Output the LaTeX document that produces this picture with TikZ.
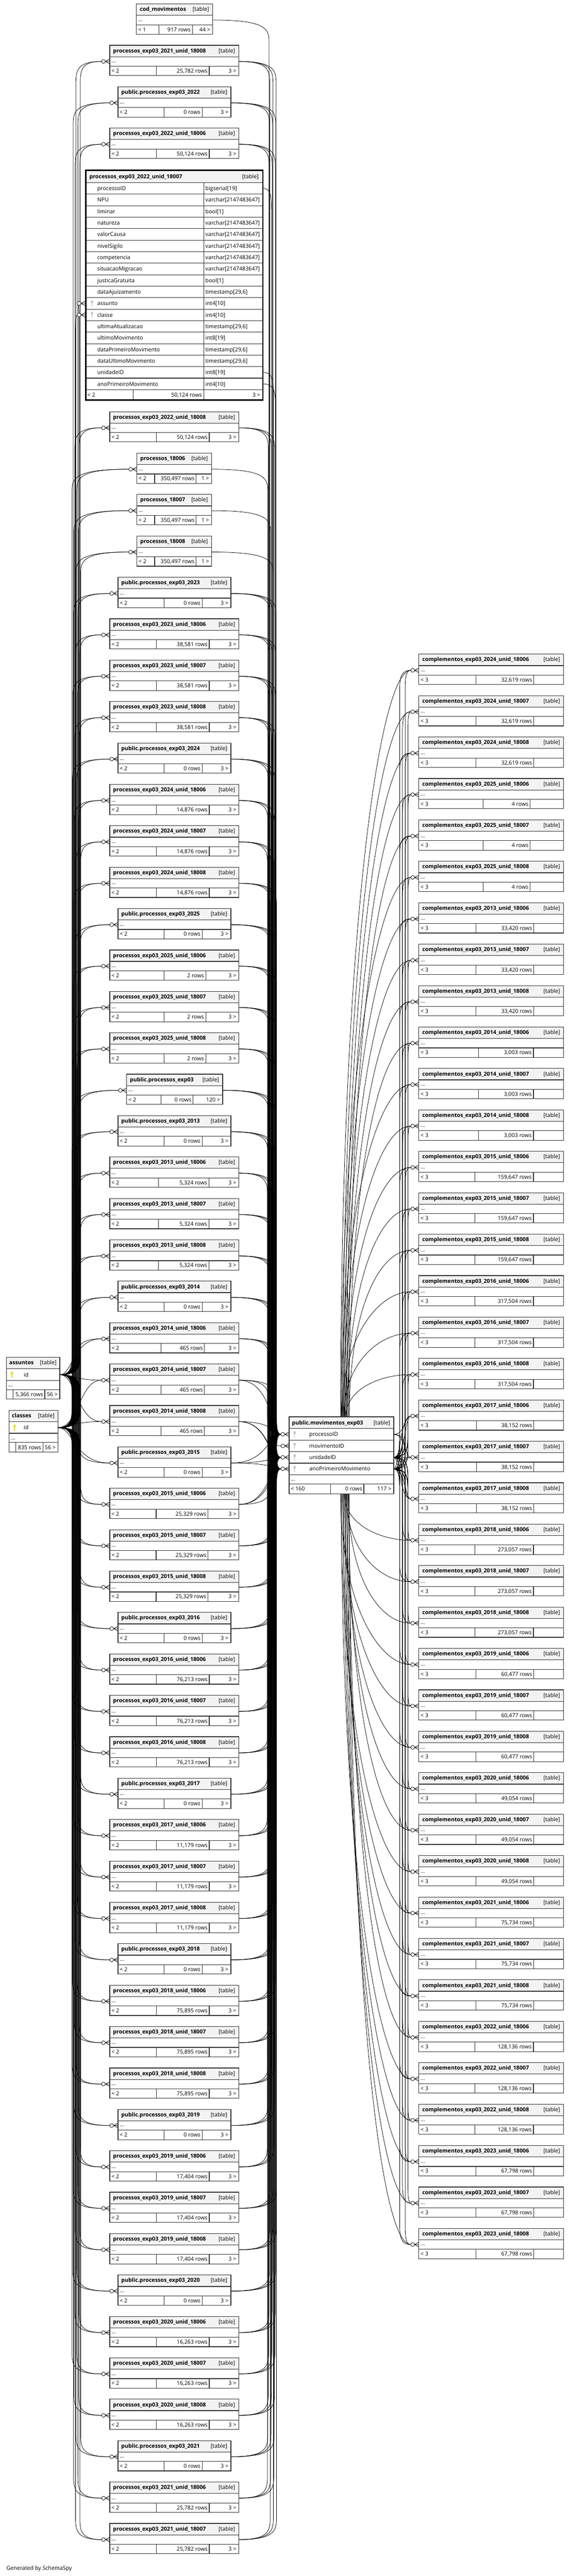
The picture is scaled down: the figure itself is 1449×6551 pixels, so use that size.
\documentclass[tikz,border=0pt]{standalone}
\usepackage{fontspec}
\setmainfont{Open Sans}
\usetikzlibrary{calc}
\definecolor{keyyellow}{RGB}{222,222,0}
\definecolor{keygray}{RGB}{185,185,185}
\definecolor{hdrgray}{RGB}{243,243,243}
\definecolor{bordergray}{RGB}{51,51,51}
\tikzset{
  tb/.style={draw=bordergray, line width=0.75pt},
  tbthick/.style={draw=black, line width=1.7pt},
  hdr/.style={fill=hdrgray},
  edge/.style={draw=black, line width=0.5pt},
  ttl/.style={font=\bfseries\fontsize{7}{8}\selectfont, inner sep=0pt},
  txt/.style={font=\fontsize{7}{8}\selectfont, inner sep=0pt},
}
\newif\ifedgepass
\def\splitd#1/#2\relax{\def\dA{#1}\def\dB{#2}}
% crow's foot with open circle, table edge at x=#1
\newcommand{\crowat}[2]{\ifedgepass\else
  \draw[edge, fill=white] ({#1-16},#2) circle[radius=4.8];
  \draw[edge] ({#1-11.2},#2) -- (#1,{#2-6}) ({#1-11.2},#2) -- (#1,#2) ({#1-11.2},#2) -- (#1,{#2+6});
  \fi}
\newcommand{\keyicon}[3]{%
  \fill[#3] (#1,{#2-4.5}) ellipse[x radius=3, y radius=3.6];
  \draw[#3, line width=1pt] (#1,{#2-3}) -- (#1,{#2+7.5});
  \fill[white] (#1,{#2-5.5}) circle[radius=1];
}
% generic small table: name, xl, xr, ytop, title, left, rows, right, d1/d2
\newcommand{\dbt}[9]{%
  \splitd#9\relax
  \pgfmathsetmacro\yA{#4+29}\pgfmathsetmacro\yB{#4+53}%
  \pgfmathsetmacro\yC{#4+77}\pgfmathsetmacro\yR{#4+41}%
  \coordinate (#1-l) at (#2,\yR);
  \coordinate (#1-r) at (#3,\yR);
  \coordinate (#1-lc) at ({#2-21},\yR);
  \ifedgepass\else
  \fill[white] (#2,#4) rectangle (#3,\yC);
  \fill[hdr] (#2,#4) rectangle (#3,\yA);
  \draw[tb] (#2,#4) rectangle (#3,\yC) (#2,\yA) -- (#3,\yA) (#2,\yB) -- (#3,\yB)
     (\dA,\yB) -- (\dA,\yC) (\dB,\yB) -- (\dB,\yC);
  \node[ttl,anchor=base west] (#1-title) at ({#2+8},{#4+18.5}) {#5};
  \node[txt,anchor=base east] (#1-kind) at ({#3-9},{#4+18.5}) {[table]};
  \node[txt,anchor=base west] (#1-dots) at ({#2+4},{#4+44}) {...};
  \node[txt,anchor=base west] (#1-fl) at ({#2+4},{#4+70}) {#6};
  \node[txt,anchor=base east] (#1-fr) at ({\dB-4},{#4+70}) {#7};
  \node[txt,anchor=base east] (#1-fx) at ({#3-6},{#4+70}) {#8};
  \fi
}
% bundled edge: src name, src y, tgt name, tgt y, bundle x
\newcommand{\bedge}[5]{\ifedgepass
  \pgfmathsetmacro\edy{#4-(#2)}%
  \pgfmathsetmacro\es{(\edy<0) ? -1 : 1}%
  \pgfmathsetmacro\eady{abs(\edy)}%
  \ifdim\eady pt<140pt
    \draw[edge] (#1) .. controls (#5,#2) and (#5,#4) .. (#3);
  \else
    \draw[edge] (#1) .. controls (#5,#2) and (#5,{#2+\es*25}) .. (#5,{#2+\es*60})
      -- (#5,{#4-\es*60}) .. controls (#5,{#4-\es*25}) and (#5,#4) .. (#3);
  \fi
  \fi}
\newcommand{\midedges}[2]{%
  \pgfmathsetmacro\bxa{183+mod(5*#1,23)}%
  \pgfmathsetmacro\bxb{183+mod(5*#1+11,23)}%
  \bedge{as-id}{3496}{m#1-lc}{\yR}{\bxa}%
  \bedge{cl-id}{3630.5}{m#1-lc}{\yR}{\bxb}%
  \pgfmathsetmacro\bxc{680+mod(7*#1,24)}%
  \bedge{m#1-r}{\yR}{mv-lp}{3647.6}{\bxc}%
  \ifnum#2>1
    \pgfmathsetmacro\bxd{680+mod(7*#1+8,24)}%
    \pgfmathsetmacro\bxe{680+mod(7*#1+16,24)}%
    \bedge{m#1-r}{\yR}{mv-lu}{3706.2}{\bxd}%
    \bedge{m#1-r}{\yR}{mv-la}{3735.5}{\bxe}%
  \fi}
\newcommand{\midtop}[1]{\pgfmathsetmacro\yt{(#1<6) ? (10+(#1-1)*105.3) : (1047+(#1-6)*105.3)}}
\newcommand{\midU}[5]{% i, year, unit, rows, d1/d2
  \midtop{#1}%
  \dbt{m#1}{279}{607}{\yt}{processos\_exp03\_#2\_unid\_#3}{< 2}{#4 rows}{3 >}{#5}%
  \crowat{279}{\yR}%
  \midedges{#1}{3}}
\newcommand{\midP}[2]{% i, year
  \midtop{#1}%
  \dbt{m#1}{300}{587}{\yt}{public.processos\_exp03\_#2}{< 2}{0 rows}{3 >}{417/514}%
  \crowat{300}{\yR}%
  \midedges{#1}{3}}
\newcommand{\midR}[2]{% i, unit
  \midtop{#1}%
  \dbt{m#1}{348}{538}{\yt}{processos\_#2}{< 2}{350,497 rows}{1 >}{393/499}%
  \crowat{348}{\yR}%
  \midedges{#1}{1}}
\newcommand{\comp}[5]{% k, year, unit, rows, d1/d2
  \pgfmathsetmacro\yt{1663.7+#1*105.35}%
  \dbt{c#1}{1065}{1433}{\yt}{complementos\_exp03\_#2\_unid\_#3}{< 3}{#4 rows}{}{#5}%
  \crowat{1065}{\yR}%
  \pgfmathsetmacro\bxa{1016+mod(7*#1,28)}%
  \pgfmathsetmacro\bxb{1016+mod(7*#1+14,28)}%
  \bedge{mv-ru}{3706.2}{c#1-lc}{\yR}{\bxa}%
  \bedge{mv-ra}{3735.5}{c#1-lc}{\yR}{\bxb}%
  \pgfmathsetmacro\xo{866+mod(5*#1,24)}%
  \ifdim\yR pt<3540pt
    \coordinate (mvt#1) at (\xo,3603);
    \ifedgepass
    \draw[edge] (mvt#1) .. controls (\xo,{\yR+0.35*(3603-\yR)}) and (965,\yR) .. (c#1-lc);
    \fi
  \else\ifdim\yR pt>3860pt
    \coordinate (mvb#1) at (\xo,3798.5);
    \ifedgepass
    \draw[edge] (mvb#1) .. controls (\xo,{\yR-0.35*(\yR-3798.5)}) and (965,\yR) .. (c#1-lc);
    \fi
  \else
    \bedge{mv-rp}{3647.6}{c#1-lc}{\yR}{1030}%
  \fi\fi}

\newcommand{\bigtable}{%
  \coordinate (big-pid) at (669,479.1);
  \coordinate (big-uni) at (669,947.1);
  \coordinate (big-ano) at (669,976.4);
  \coordinate (big-as-lc) at (197,771.6);
  \coordinate (big-cl-lc) at (197,800.9);
  \ifedgepass
  \bedge{as-id}{3496}{big-as-lc}{771.6}{201}
  \bedge{cl-id}{3630.5}{big-cl-lc}{800.9}{192}
  \bedge{big-pid}{479.1}{mv-lp}{3647.6}{690}
  \bedge{big-uni}{947.1}{mv-lu}{3706.2}{695}
  \bedge{big-ano}{976.4}{mv-la}{3735.5}{700}
  \else
  \fill[white] (218,433) rectangle (668,1017);
  \fill[hdr] (218,433) rectangle (668,464.5);
  \draw[tb] (218,464.5) -- (668,464.5) (518,464.5) -- (518,991) (218,991) -- (668,991)
    (339,991) -- (339,1017) (518,991) -- (518,1017);
  \foreach \fn/\ft [count=\rr from 0] in {processoID/{bigserial[19]}, NPU/{varchar[2147483647]},
    liminar/{bool[1]}, natureza/{varchar[2147483647]}, valorCausa/{varchar[2147483647]},
    nivelSigilo/{varchar[2147483647]}, competencia/{varchar[2147483647]},
    situacaoMigracao/{varchar[2147483647]}, justicaGratuita/{bool[1]},
    dataAjuizamento/{timestamp[29,6]}, assunto/{int4[10]}, classe/{int4[10]},
    ultimaAtualizacao/{timestamp[29,6]}, ultimoMovimento/{int8[19]},
    dataPrimeiroMovimento/{timestamp[29,6]}, dataUltimoMovimento/{timestamp[29,6]},
    unidadeID/{int8[19]}, anoPrimeiroMovimento/{int4[10]}} {
    \pgfmathsetmacro\yc{464.5+29.25*\rr+14.6}
    \node[txt,anchor=base west] (big-f\rr) at (247,{\yc+5}) {\fn};
    \node[txt,anchor=base west] (big-t\rr) at (522,{\yc+5}) {\ft};
    \ifnum\rr<17 \pgfmathsetmacro\yl{464.5+29.25*(\rr+1)}\draw[tb] (218,\yl) -- (668,\yl);\fi
  }
  \keyicon{234}{771.6}{keygray}
  \keyicon{234}{800.9}{keygray}
  \node[ttl,anchor=base west] (big-title) at (227,454) {processos\_exp03\_2022\_unid\_18007};
  \node[txt,anchor=base east] (big-kind) at (658,454) {[table]};
  \node[txt,anchor=base west] (big-fl) at (222,1009) {< 2};
  \node[txt,anchor=base east] (big-fr) at (514,1009) {50,124 rows};
  \node[txt,anchor=base east] (big-fx) at (662,1009) {3 >};
  \draw[tbthick] (218,433) rectangle (668,1017);
  \crowat{217}{771.6}
  \crowat{217}{800.9}
  \fi}

\newcommand{\allcolumns}{%
  \dbt{m1}{347}{541}{10}{cod\_movimentos}{< 1}{917 rows}{44 >}{404/489}
  \bedge{m1-r}{51}{mv-lm}{3677}{684}
  \midU{2}{2021}{18008}{25,782}{398/532}
  \midP{3}{2022}
  \midU{4}{2022}{18006}{50,124}{398/532}
  \bigtable
  \midU{6}{2022}{18008}{50,124}{398/532}
  \midR{7}{18006}
  \midR{8}{18007}
  \midR{9}{18008}
  \foreach \ip/\yr/\rw/\da/\db in {10/2023/{38,581}/398/532, 14/2024/{14,876}/398/532,
     18/2025/2/417/523, 23/2013/{5,324}/403/531, 27/2014/465/409/520,
     31/2015/{25,329}/397/529, 35/2016/{76,213}/398/532, 39/2017/{11,179}/398/532,
     43/2018/{75,895}/398/532, 47/2019/{17,404}/398/532, 51/2020/{16,263}/398/532} {
    \midP{\ip}{\yr}
    \foreach \un [count=\jj from 1] in {18006,18007,18008} {
      \pgfmathtruncatemacro\mi{\ip+\jj}
      \midU{\mi}{\yr}{\un}{\rw}{\da/\db}
    }
  }
  \midtop{22}
  \dbt{m22}{322}{566}{\yt}{public.processos\_exp03}{< 2}{0 rows}{120 >}{409/491}
  \crowat{322}{\yR}
  \midedges{22}{3}
  \midP{55}{2021}
  \midU{56}{2021}{18006}{25,782}{398/532}
  \midU{57}{2021}{18007}{25,782}{398/532}
  \foreach \grp/\yr/\rw/\da/\db in {0/2024/{32,619}/1210/1357, 1/2025/4/1228/1348,
     2/2013/{33,420}/1210/1357, 3/2014/{3,003}/1216/1356,
     4/2015/{159,647}/1207/1356, 5/2016/{317,504}/1207/1356, 6/2017/{38,152}/1211/1357,
     7/2018/{273,057}/1207/1356, 8/2019/{60,477}/1210/1357, 9/2020/{49,054}/1210/1357,
     10/2021/{75,734}/1210/1357, 11/2022/{128,136}/1207/1356, 12/2023/{67,798}/1210/1357} {
    \foreach \un [count=\jj from 0] in {18006,18007,18008} {
      \pgfmathtruncatemacro\kk{3*\grp+\jj}
      \comp{\kk}{\yr}{\un}{\rw}{\da/\db}
    }
  }
}

\begin{document}
\begin{tikzpicture}[x=0.5pt,y=-0.5pt]
\useasboundingbox (0,0) rectangle (1449,6551);
\fill[white] (0,0) rectangle (1449,6551);

% anchor points of the fixed tables
\coordinate (as-id) at (152,3496);
\coordinate (cl-id) at (147,3630.5);
\coordinate (mv-lp) at (714,3647.6);
\coordinate (mv-lm) at (714,3677);
\coordinate (mv-lu) at (714,3706.2);
\coordinate (mv-la) at (714,3735.5);
\coordinate (mv-rp) at (1001,3647.6);
\coordinate (mv-ru) at (1001,3706.2);
\coordinate (mv-ra) at (1001,3735.5);

% pass 1: connectors
\edgepasstrue
\allcolumns
% pass 2: tables
\edgepassfalse
\allcolumns

% ---------- assuntos ----------
\fill[white] (16,3452) rectangle (152,3558);
\fill[hdr] (16,3452) rectangle (152,3481);
\draw[tb] (16,3452) rectangle (152,3558) (16,3481) -- (152,3481) (16,3511) -- (152,3511)
  (16,3534) -- (152,3534) (33,3534) -- (33,3558) (114,3534) -- (114,3558);
\node[ttl,anchor=base west] (as-title) at (23,3470.5) {assuntos};
\node[txt,anchor=base east] (as-kind) at (144,3470.5) {[table]};
\keyicon{30}{3496}{keyyellow}
\node[txt,anchor=base west] (as-idt) at (60,3501) {id};
\node[txt,anchor=base west] (as-dots) at (20,3527) {...};
\node[txt,anchor=base east] (as-rows) at (110,3551) {5,366 rows};
\node[txt,anchor=base east] (as-ch) at (147,3551) {56 >};

% ---------- classes ----------
\fill[white] (23,3587) rectangle (147,3693);
\fill[hdr] (23,3587) rectangle (147,3616);
\draw[tb] (23,3587) rectangle (147,3693) (23,3616) -- (147,3616) (23,3645) -- (147,3645)
  (23,3668) -- (147,3668) (40,3668) -- (40,3693) (109,3668) -- (109,3693);
\node[ttl,anchor=base west] (cl-title) at (30,3605.5) {classes};
\node[txt,anchor=base east] (cl-kind) at (139,3605.5) {[table]};
\keyicon{37}{3630.5}{keyyellow}
\node[txt,anchor=base west] (cl-idt) at (60,3635.5) {id};
\node[txt,anchor=base west] (cl-dots) at (27,3661) {...};
\node[txt,anchor=base east] (cl-rows) at (105,3686) {835 rows};
\node[txt,anchor=base east] (cl-ch) at (142,3686) {56 >};

% ---------- central table ----------
\fill[white] (735,3603) rectangle (1001,3798.5);
\fill[hdr] (735,3603) rectangle (1001,3633);
\draw[tb] (735,3603) rectangle (1001,3798.5);
\foreach \yy in {3633,3662.3,3691.6,3720.9,3750.2,3774.5} {\draw[tb] (735,\yy) -- (1001,\yy);}
\draw[tb] (841,3774.5) -- (841,3798.5) (925,3774.5) -- (925,3798.5);
\node[ttl,anchor=base west] (mv-title) at (742,3623) {public.movimentos\_exp03};
\node[txt,anchor=base east] (mv-kind) at (992,3623) {[table]};
\foreach \fn [count=\rr from 0] in {processoID,movimentoID,unidadeID,anoPrimeiroMovimento} {
  \pgfmathsetmacro\yc{3633+29.3*\rr+14.65}
  \keyicon{749}{\yc}{keygray}
  \node[txt,anchor=base west] (mv-f\rr) at (786,{\yc+5}) {\fn};
}
\node[txt,anchor=base west] (mv-dots) at (739,3766) {...};
\node[txt,anchor=base west] (mv-fl) at (739,3791) {< 160};
\node[txt,anchor=base east] (mv-fr) at (921,3791) {0 rows};
\node[txt,anchor=base east] (mv-fx) at (995,3791) {117 >};
\crowat{735}{3647.6}
\crowat{735}{3677}
\crowat{735}{3706.2}
\crowat{735}{3735.5}

\node[txt,anchor=base west] (gen) at (16,6536) {Generated by SchemaSpy};
\end{tikzpicture}
\end{document}
